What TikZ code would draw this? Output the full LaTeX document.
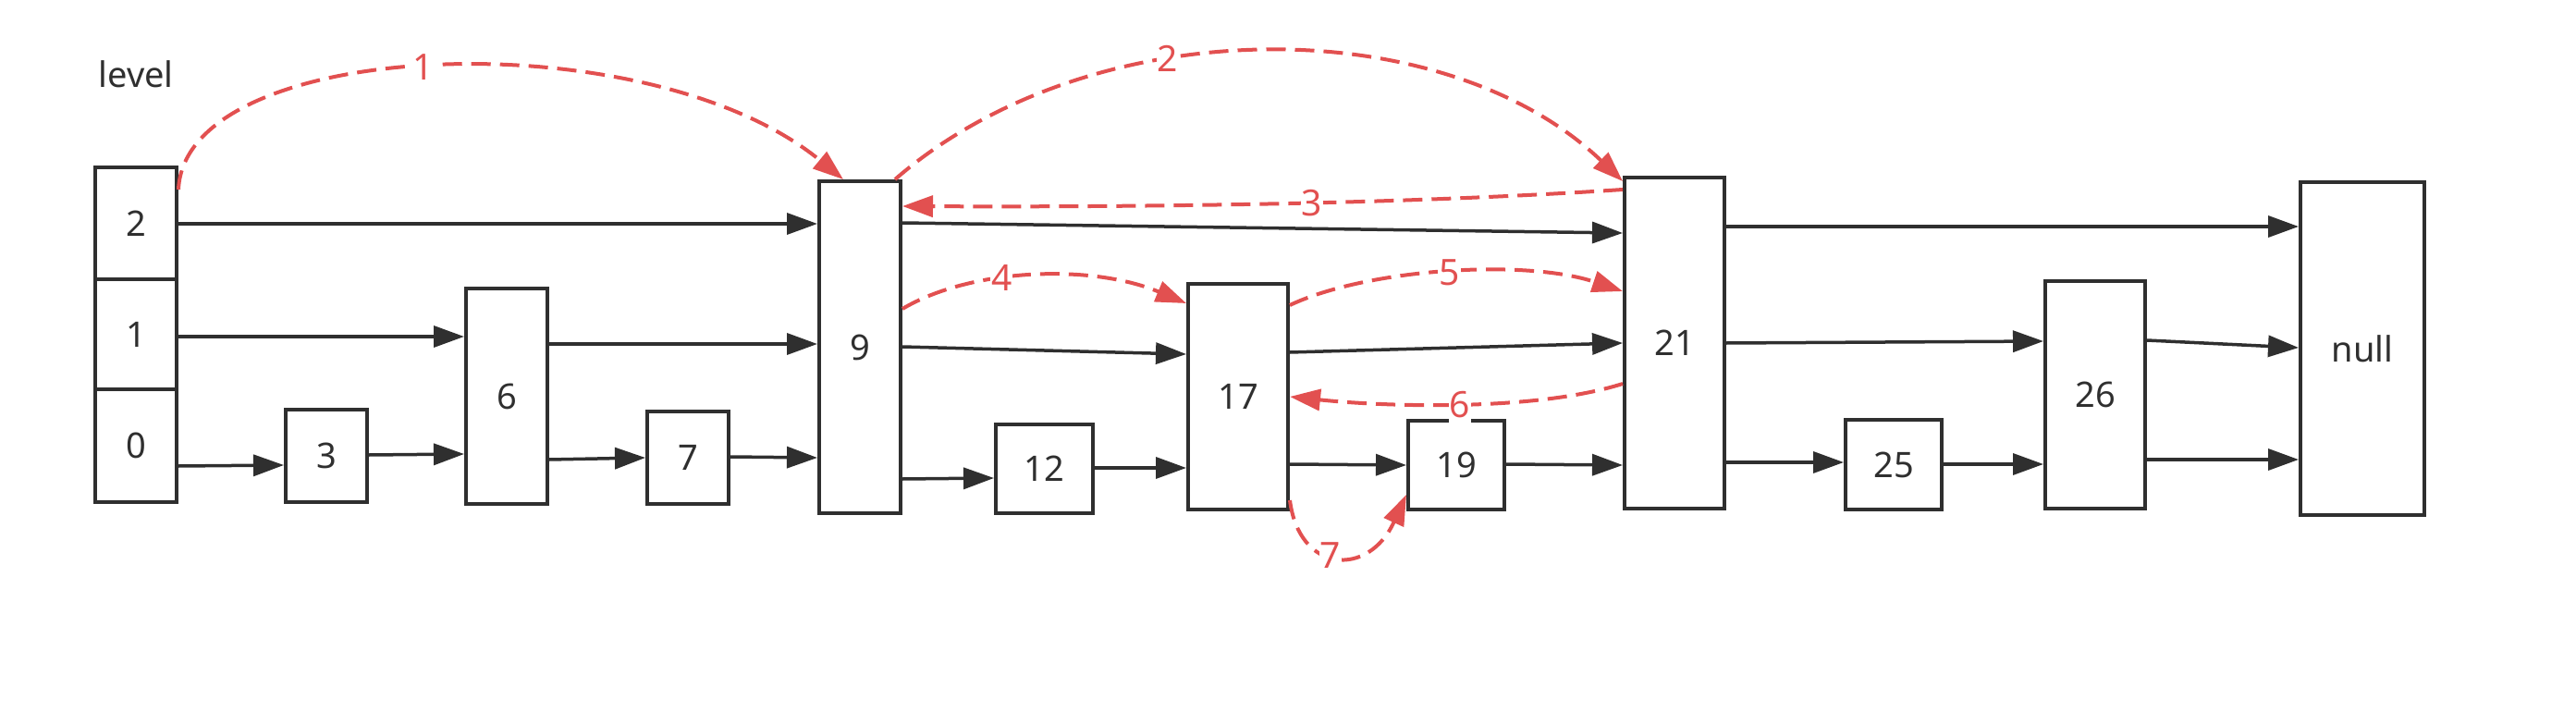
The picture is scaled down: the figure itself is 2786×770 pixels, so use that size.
\documentclass[tikz,border=0pt]{standalone}
\usepackage{fontspec}
\setmainfont{Noto Sans}
\usetikzlibrary{arrows.meta,calc}
\definecolor{ink}{RGB}{47,47,47}
\definecolor{hop}{RGB}{226,80,80}
\begin{document}
\begin{tikzpicture}[x=1pt,y=-1pt,
  box/.style={draw=ink,line width=4pt,fill=white,inner sep=0pt,font=\fontsize{38}{42}\selectfont,text=ink},
  link/.style={draw=ink,line width=3.5pt,-{Triangle[length=33pt,width=23pt]}},
  hopline/.style={draw=hop,line width=4pt,dash pattern=on 21pt off 10pt,-{Triangle[length=33pt,width=23pt]}},
  hoplabel/.style={fill=white,text=hop,inner sep=1pt,text height=28pt,text depth=9pt,yshift=-4.4pt,font=\fontsize{39}{42}\selectfont},
]
\useasboundingbox (0,0) rectangle (2786,770);
\node[font=\fontsize{38}{42}\selectfont,text=ink] (lvl) at (147,80) {level};
% level column
\node[box,minimum width=88pt,minimum height=121pt] (c2) at (147,241.5) {2};
\node[box,minimum width=88pt,minimum height=119pt] (c1) at (147,361.5) {1};
\node[box,minimum width=88pt,minimum height=122pt] (c0) at (147,482) {0};
% nodes
\node[box,minimum width=88pt,minimum height=100pt] (n3) at (353,493) {3};
\node[box,minimum width=88pt,minimum height=233pt] (n6) at (548,428.5) {6};
\node[box,minimum width=88pt,minimum height=100pt] (n7) at (744,495) {7};
\node[box,minimum width=88pt,minimum height=359pt] (n9) at (930,375.5) {9};
\node[box,minimum width=105pt,minimum height=96pt] (n12) at (1129.5,507) {12};
\node[box,minimum width=108pt,minimum height=244pt] (n17) at (1339,429) {17};
\node[box,minimum width=104pt,minimum height=96pt] (n19) at (1575,503) {19};
\node[box,minimum width=108pt,minimum height=358pt] (n21) at (1811,371) {21};
\node[box,minimum width=104pt,minimum height=97pt] (n25) at (2048,502.5) {25};
\node[box,minimum width=108pt,minimum height=246pt] (n26) at (2266,427) {26};
\node[box,minimum width=134pt,minimum height=360pt] (nul) at (2555,377) {null};
% black links
\draw[link] (c2.east |- 0,242) -- (n9.west |- 0,242);
\draw[link] (c1.east |- 0,364) -- (n6.west |- 0,364);
\draw[link] (c0.east |- 0,504) -- (n3.west |- 0,503);
\draw[link] (n3.east |- 0,492) -- (n6.west |- 0,491);
\draw[link] (n6.east |- 0,372) -- (n9.west |- 0,372);
\draw[link] (n6.east |- 0,497) -- (n7.west |- 0,495);
\draw[link] (n7.east |- 0,494) -- (n9.west |- 0,495);
\draw[link] (n9.east |- 0,241) -- (n21.west |- 0,252);
\draw[link] (n9.east |- 0,375) -- (n17.west |- 0,383);
\draw[link] (n9.east |- 0,518) -- (n12.west |- 0,517);
\draw[link] (n12.east |- 0,506) -- (n17.west |- 0,506);
\draw[link] (n17.east |- 0,381) -- (n21.west |- 0,371);
\draw[link] (n17.east |- 0,502) -- (n19.west |- 0,503);
\draw[link] (n19.east |- 0,502) -- (n21.west |- 0,503);
\draw[link] (n21.east |- 0,245) -- (nul.west |- 0,245);
\draw[link] (n21.east |- 0,371) -- (n26.west |- 0,369);
\draw[link] (n21.east |- 0,500) -- (n25.west |- 0,500);
\draw[link] (n25.east |- 0,502) -- (n26.west |- 0,502);
\draw[link] (n26.east |- 0,368) -- (nul.west |- 0,376);
\draw[link] (n26.east |- 0,497) -- (nul.west |- 0,497);
% red search path
\draw[hopline] (c2.east |- 0,205) .. controls (200,40) and (700,20) .. ($(n9.north)+(-18,0)$) node[hoplabel,pos=0.48] {1};
\draw[hopline] ($(n9.north east)+(-8,0)$) .. controls (1180,10) and (1560,10) .. ($(n21.north west)+(0,6)$) node[hoplabel,pos=0.38] {2};
\draw[hopline] (n21.west |- 0,205) .. controls (1500,222) and (1200,224) .. (n9.east |- 0,223) node[hoplabel,pos=0.42] {3};
\draw[hopline] (n9.east |- 0,334) .. controls (1050,290) and (1180,285) .. (n17.west |- 0,328) node[hoplabel,pos=0.39] {4};
\draw[hopline] (n17.east |- 0,330) .. controls (1480,290) and (1650,280) .. (n21.west |- 0,315) node[hoplabel,pos=0.5] {5};
\draw[hopline] (n21.west |- 0,415) .. controls (1660,445) and (1500,440) .. (n17.east |- 0,429) node[hoplabel,pos=0.5] {6};
\draw[hopline] (n17.east |- 0,541) .. controls (1405,620) and (1480,625) .. (n19.west |- 0,535) node[hoplabel,pos=0.45] {7};
\end{tikzpicture}
\end{document}
